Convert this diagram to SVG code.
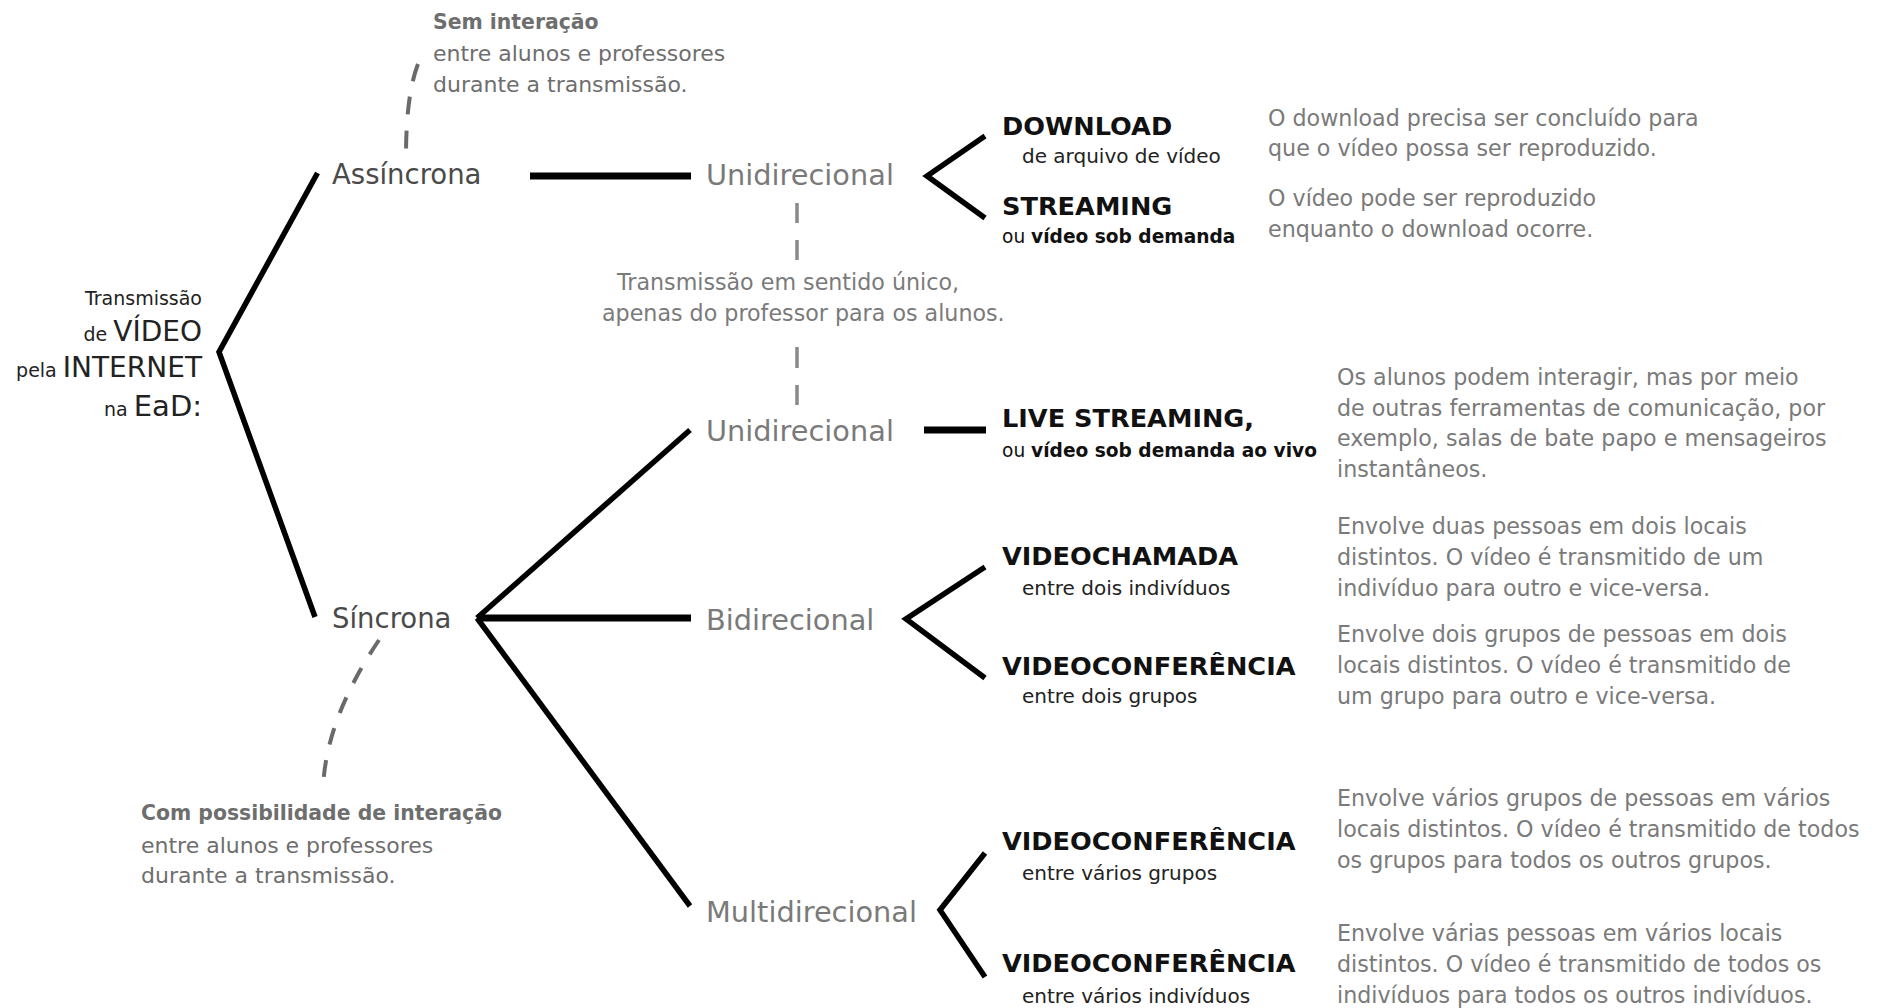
<svg xmlns="http://www.w3.org/2000/svg" width="1886" height="1008" viewBox="0 0 1886 1008">
<style>
text{font-family:"DejaVu Sans",sans-serif}
.title{fill:#222}
.lvl1{font-size:27.5px;fill:#4a4a4a}
.lvl2{font-size:28.8px;fill:#7a7a7a}
.head{font-size:25.6px;font-weight:bold;fill:#111}
.sub{font-size:20px;fill:#222}
.sub2{font-size:18.6px;fill:#111}
.desc{font-size:22.2px;fill:#7a7a7a}
.note{font-size:22px;fill:#6e6e6e}
.noteb{font-size:20.4px;font-weight:bold;fill:#6e6e6e}
.b{font-weight:bold}
.ln{stroke:#000;fill:none;stroke-width:5.5}
.thick{stroke-width:7}
.dash{stroke:#6a6a6a;fill:none;stroke-width:4}
.vdash{stroke:#8a8a8a;fill:none;stroke-width:3.5}
</style>
<rect width="1886" height="1008" fill="#fff"/>
<g id="connectors">
<polyline class="ln" stroke-width="5" points="317.5,173 219,352 315,617"/>
<line class="ln thick" x1="530" y1="176" x2="691" y2="176"/>
<polyline class="ln" points="985,136 927,176 985,218"/>
<line class="ln" x1="477" y1="618" x2="690" y2="430"/>
<line class="ln thick" x1="477" y1="618" x2="691" y2="618"/>
<line class="ln" x1="477" y1="618" x2="690" y2="906"/>
<line class="ln thick" x1="924" y1="430" x2="986" y2="430"/>
<polyline class="ln" points="985,567 906,619 985,678"/>
<polyline class="ln" points="985,853 940,910 985,977"/>
<path class="dash" d="M418,64 Q406,95 406,156" stroke-dasharray="18 16"/>
<path class="vdash" d="M797,203 L797,260" stroke-dasharray="20 17"/>
<path class="vdash" d="M797,347 L797,405" stroke-dasharray="21 17"/>
<path class="dash" d="M379,640 Q325,720 323,790" stroke-dasharray="17 16"/>
</g>
<g id="root">
<text class="title" text-anchor="end" x="202" y="305" font-size="19">Transmissão</text>
<text class="title" text-anchor="end" x="202" y="341"><tspan font-size="19">de </tspan><tspan font-size="28">VÍDEO</tspan></text>
<text class="title" text-anchor="end" x="202" y="377"><tspan font-size="19">pela </tspan><tspan font-size="28">INTERNET</tspan></text>
<text class="title" text-anchor="end" x="202" y="416"><tspan font-size="19">na </tspan><tspan font-size="29">EaD:</tspan></text>
</g>
<g id="note-assincrona">
<text class="noteb" x="433" y="29">Sem interação</text>
<text class="note" x="433" y="60.5">entre alunos e professores</text>
<text class="note" x="433" y="91.5">durante a transmissão.</text>
</g>
<g id="assincrona"><text class="lvl1" x="332" y="184">Assíncrona</text></g>
<g id="sincrona"><text class="lvl1" x="332" y="628">Síncrona</text></g>
<g id="note-sincrona">
<text class="noteb" x="141" y="820">Com possibilidade de interação</text>
<text class="note" x="141" y="853">entre alunos e professores</text>
<text class="note" x="141" y="883">durante a transmissão.</text>
</g>
<g id="unidirecional-assincrona"><text class="lvl2" x="706" y="185">Unidirecional</text></g>
<g id="note-unidirecional">
<text class="desc" x="617" y="290">Transmissão em sentido único,</text>
<text class="desc" x="602" y="321">apenas do professor para os alunos.</text>
</g>
<g id="unidirecional-sincrona"><text class="lvl2" x="706" y="441">Unidirecional</text></g>
<g id="bidirecional"><text class="lvl2" x="706" y="630">Bidirecional</text></g>
<g id="multidirecional"><text class="lvl2" x="706" y="922">Multidirecional</text></g>
<g id="download">
<text class="head" x="1002" y="135">DOWNLOAD</text>
<text class="sub" x="1022" y="163">de arquivo de vídeo</text>
<text class="desc" x="1268" y="126">O download precisa ser concluído para</text>
<text class="desc" x="1268" y="156">que o vídeo possa ser reproduzido.</text>
</g>
<g id="streaming">
<text class="head" x="1002" y="215">STREAMING</text>
<text class="sub2" x="1002" y="243"><tspan font-weight="normal">ou </tspan><tspan class="b">vídeo sob demanda</tspan></text>
<text class="desc" x="1268" y="206">O vídeo pode ser reproduzido</text>
<text class="desc" x="1268" y="237">enquanto o download ocorre.</text>
</g>
<g id="live-streaming">
<text class="head" x="1002" y="427">LIVE STREAMING,</text>
<text class="sub2" x="1002" y="457"><tspan font-weight="normal">ou </tspan><tspan class="b">vídeo sob demanda ao vivo</tspan></text>
<text class="desc" x="1337" y="385">Os alunos podem interagir, mas por meio</text>
<text class="desc" x="1337" y="416">de outras ferramentas de comunicação, por</text>
<text class="desc" x="1337" y="446">exemplo, salas de bate papo e mensageiros</text>
<text class="desc" x="1337" y="477">instantâneos.</text>
</g>
<g id="videochamada">
<text class="head" x="1002" y="565">VIDEOCHAMADA</text>
<text class="sub" x="1022" y="595">entre dois indivíduos</text>
<text class="desc" x="1337" y="534">Envolve duas pessoas em dois locais</text>
<text class="desc" x="1337" y="565">distintos. O vídeo é transmitido de um</text>
<text class="desc" x="1337" y="596">indivíduo para outro e vice-versa.</text>
</g>
<g id="videoconferencia-dois-grupos">
<text class="head" x="1002" y="675">VIDEOCONFERÊNCIA</text>
<text class="sub" x="1022" y="703">entre dois grupos</text>
<text class="desc" x="1337" y="642">Envolve dois grupos de pessoas em dois</text>
<text class="desc" x="1337" y="673">locais distintos. O vídeo é transmitido de</text>
<text class="desc" x="1337" y="704">um grupo para outro e vice-versa.</text>
</g>
<g id="videoconferencia-varios-grupos">
<text class="head" x="1002" y="850">VIDEOCONFERÊNCIA</text>
<text class="sub" x="1022" y="880">entre vários grupos</text>
<text class="desc" x="1337" y="806">Envolve vários grupos de pessoas em vários</text>
<text class="desc" x="1337" y="837">locais distintos. O vídeo é transmitido de todos</text>
<text class="desc" x="1337" y="868">os grupos para todos os outros grupos.</text>
</g>
<g id="videoconferencia-varios-individuos">
<text class="head" x="1002" y="972">VIDEOCONFERÊNCIA</text>
<text class="sub" x="1022" y="1003">entre vários indivíduos</text>
<text class="desc" x="1337" y="941">Envolve várias pessoas em vários locais</text>
<text class="desc" x="1337" y="972">distintos. O vídeo é transmitido de todos os</text>
<text class="desc" x="1337" y="1003">indivíduos para todos os outros indivíduos.</text>
</g>
</svg>
